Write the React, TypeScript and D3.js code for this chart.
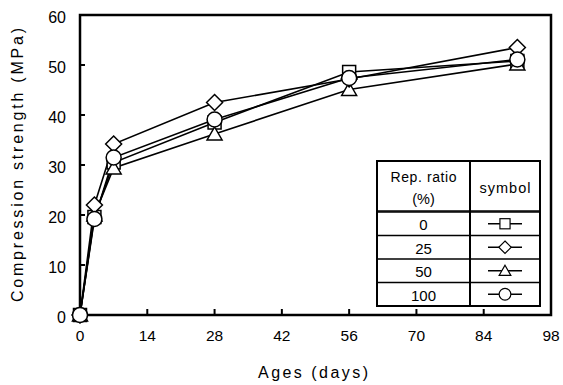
import React from "react";
import * as d3 from "d3";

const days = [0, 3, 7, 28, 56, 91];
const ratios = ["0", "25", "50", "100"];
const symbols = ["square", "diamond", "triangle", "circle"];
const valuesSquare = [0, 19.6, 30.5, 38.5, 48.6, 50.8];
const valuesDiamond = [0, 22, 34.2, 42.5, 47.2, 53.5];
const valuesTriangle = [0, 20, 29.4, 36.2, 45.1, 50.2];
const valuesCircle = [0, 19.2, 31.5, 39.1, 47.4, 51.1];
const seriesValues = [valuesSquare, valuesDiamond, valuesTriangle, valuesCircle];
const xTicks = [0, 14, 28, 42, 56, 70, 84, 98];
const yTicks = [0, 10, 20, 30, 40, 50, 60];

const W = 563, H = 385;
const L = 80, R = 551, T = 15, B = 315;
const FONT = "'Liberation Sans', Arial, sans-serif";

function Marker({ type, x, y }: { type: string; x: number; y: number }) {
  const st = { fill: "#fff", stroke: "#000", strokeWidth: 1.5 };
  if (type === "square") return <rect x={x - 6.5} y={y - 6.5} width={13} height={13} {...st} />;
  if (type === "diamond")
    return <path d={`M${x},${y - 8}L${x + 8},${y}L${x},${y + 8}L${x - 8},${y}Z`} {...st} />;
  if (type === "triangle")
    return <path d={`M${x},${y - 7}L${x + 7.5},${y + 6}L${x - 7.5},${y + 6}Z`} {...st} />;
  return <circle cx={x} cy={y} r={7.5} {...st} />;
}

export default function App() {
  const x = d3.scaleLinear().domain([0, 98]).range([L, R]);
  const y = d3.scaleLinear().domain([0, 60]).range([B, T]);
  const line = d3
    .line<number>()
    .x((_, i) => x(days[i]))
    .y((d) => y(d));

  // legend table geometry
  const tL = 377, tR = 540, tM = 470, tT = 161, tH = 211;
  const rowH = (306 - 212) / 4;

  return (
    <svg width={W} height={H} style={{ position: "absolute", left: 0, top: 0, background: "#fff" }} fontFamily={FONT}>
      <rect width={W} height={H} fill="#fff" />
      {/* ticks */}
      {yTicks.map((t) => (
        <g key={"y" + t}>
          <line x1={L} x2={L + 5} y1={y(t)} y2={y(t)} stroke="#000" strokeWidth={2} />
          <text x={L - 14} y={y(t) + 2} dy="0.36em" textAnchor="end" fontSize={16}>
            {t}
          </text>
        </g>
      ))}
      {xTicks.map((t) => (
        <g key={"x" + t}>
          <line x1={x(t)} x2={x(t)} y1={B} y2={B - 6} stroke="#000" strokeWidth={2} />
          <text x={x(t)} y={B + 26} textAnchor="middle" fontSize={15.5}>
            {t}
          </text>
        </g>
      ))}
      {/* legend table */}
      <g stroke="#000" fill="none">
        <rect x={tL} y={tT} width={tR - tL} height={306 - tT} strokeWidth={2} fill="#fff" />
        <line x1={tM} x2={tM} y1={tT} y2={306} strokeWidth={2} />
        <line x1={tL} x2={tR} y1={tH} y2={tH} strokeWidth={1.5} />
        {ratios.map((_, i) => (
          <line key={i} x1={tL} x2={tR} y1={212 + rowH * i} y2={212 + rowH * i} strokeWidth={1.5} />
        ))}
      </g>
      <text x={(tL + tM) / 2} y={182} textAnchor="middle" fontSize={14} textLength={66} lengthAdjust="spacing">Rep. ratio</text>
      <text x={(tL + tM) / 2} y={204} textAnchor="middle" fontSize={14.5}>(%)</text>
      <text x={(tM + tR) / 2} y={193} textAnchor="middle" fontSize={14.5} textLength={51} lengthAdjust="spacing">symbol</text>
      {ratios.map((r, i) => {
        const cy = 212 + rowH * (i + 0.5);
        const cx = (tM + tR) / 2;
        return (
          <g key={r}>
            <text x={(tL + tM) / 2} y={cy + 1} dy="0.36em" textAnchor="middle" fontSize={15}>
              {r}
            </text>
            <line x1={cx - 17} x2={cx + 17} y1={cy} y2={cy} stroke="#000" strokeWidth={1.3} />
            <g transform={`translate(${cx},${cy}) scale(0.78) translate(${-cx},${-cy})`}>
              <Marker type={symbols[i]} x={cx} y={cy} />
            </g>
          </g>
        );
      })}
      {/* lines */}
      {seriesValues.map((vals, i) => (
        <path key={"l" + i} d={line(vals) || ""} fill="none" stroke="#000" strokeWidth={1.6} />
      ))}
      {/* frame */}
      <rect x={L} y={T} width={R - L} height={B - T} fill="none" stroke="#000" strokeWidth={2.5} />
      {/* markers */}
      {[0, 2, 1, 3].map((si) =>
        seriesValues[si].map((v, j) => (
          <Marker key={si + "-" + j} type={symbols[si]} x={x(days[j])} y={y(v)} />
        ))
      )}
      <text x={313} y={378} textAnchor="middle" fontSize={16} textLength={110} lengthAdjust="spacing">
        Ages (days)
      </text>
      <text
        transform={`translate(23,165) rotate(-90)`}
        textAnchor="middle"
        fontSize={16}
        textLength={274}
        lengthAdjust="spacing"
      >
        Compression strength (MPa)
      </text>
    </svg>
  );
}
